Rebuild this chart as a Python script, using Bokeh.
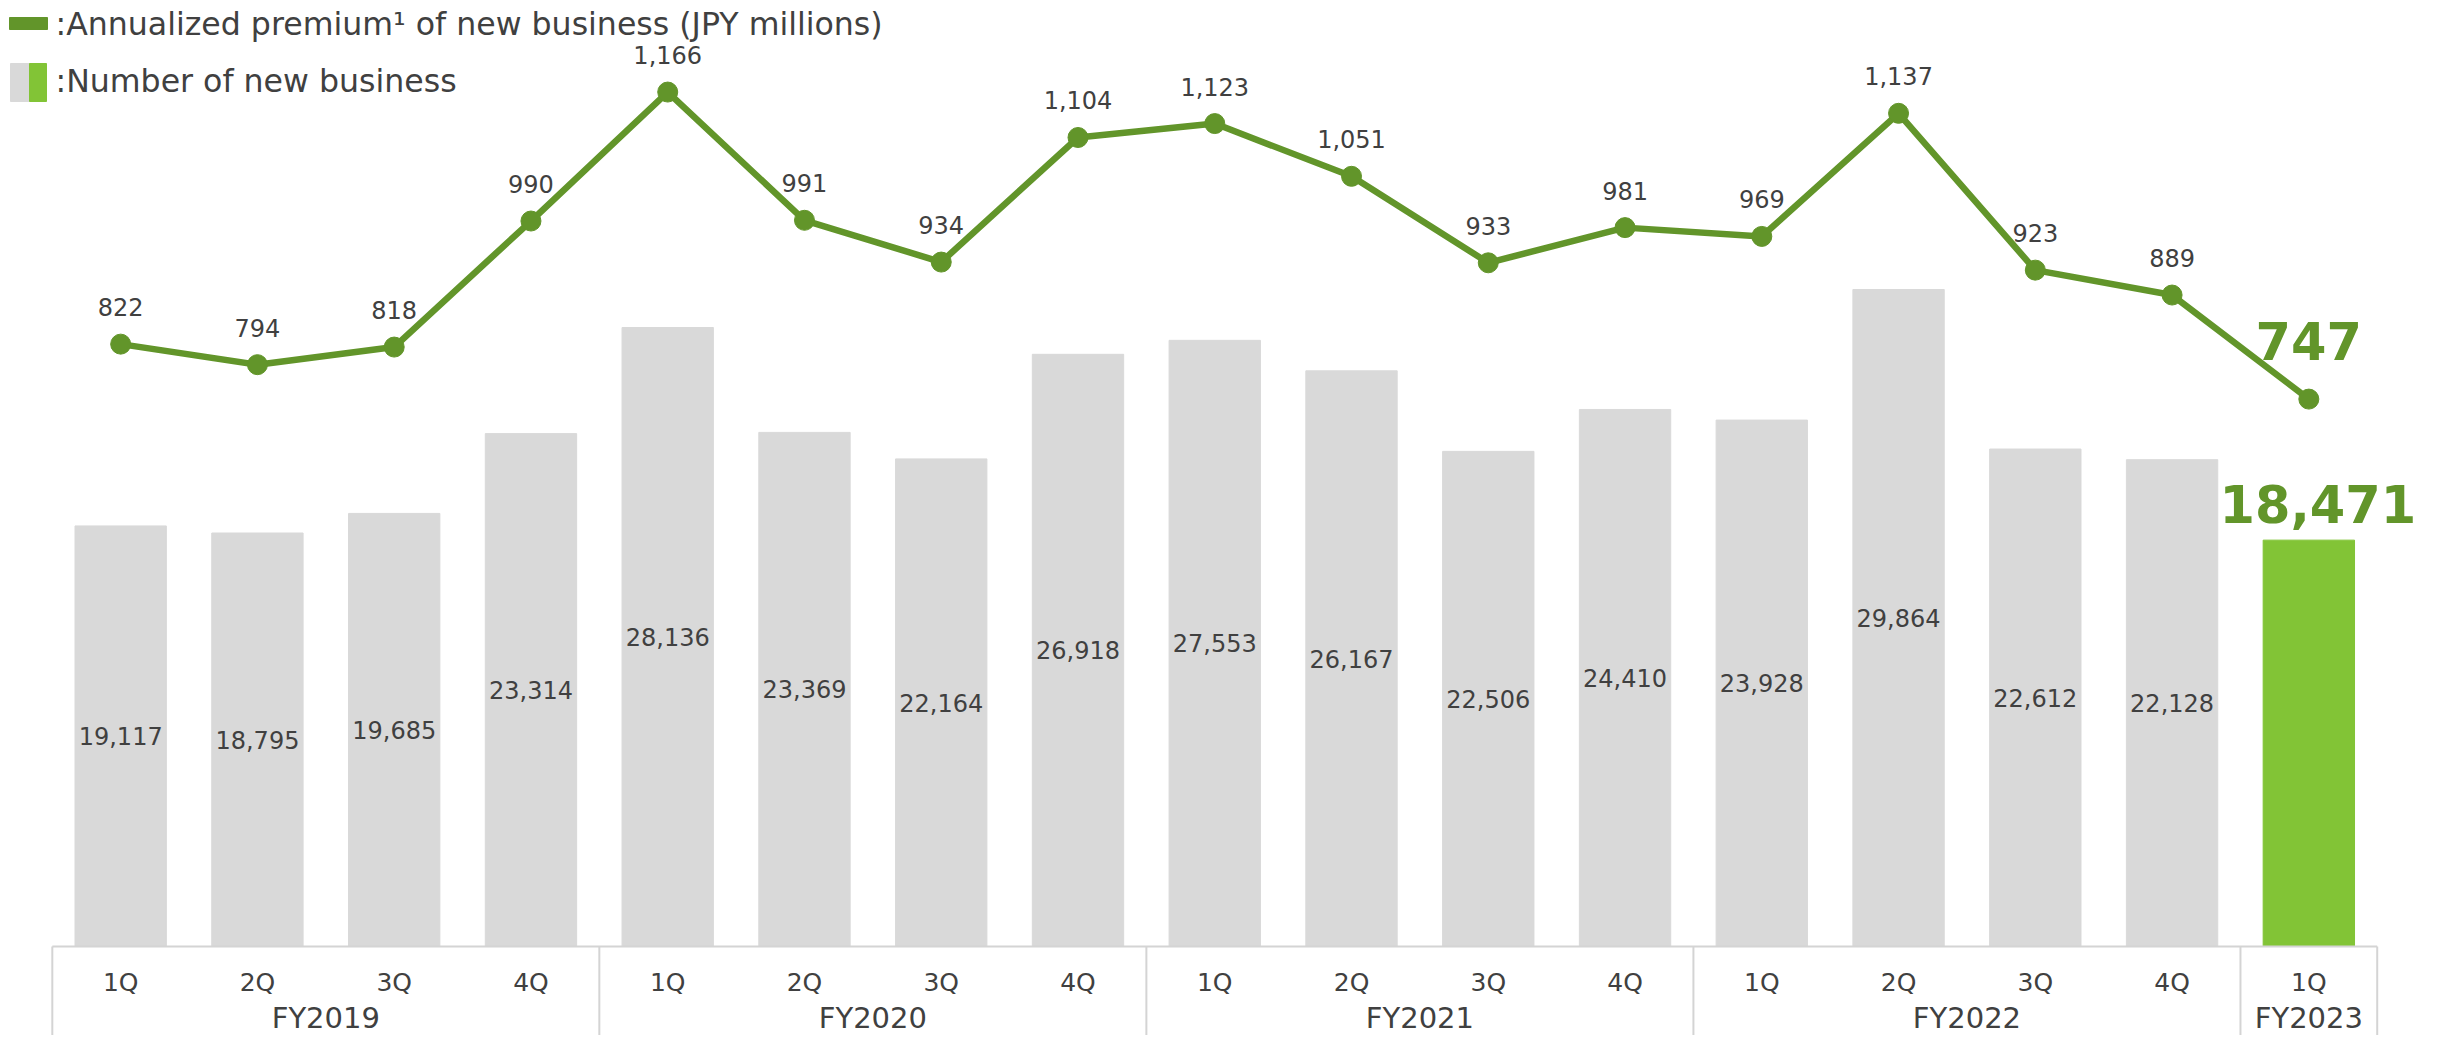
import numpy as np
from bokeh.plotting import figure
from bokeh.models import Range1d, ColumnDataSource
from bokeh.core.properties import value
from bokeh.embed import file_html
from bokeh.resources import INLINE

# ---------------- data ----------------
fiscal_years = ["FY2019"] * 4 + ["FY2020"] * 4 + ["FY2021"] * 4 + ["FY2022"] * 4 + ["FY2023"]
quarters = ["1Q", "2Q", "3Q", "4Q"] * 4 + ["1Q"]
new_business_count = [19117, 18795, 19685, 23314, 28136, 23369, 22164, 26918,
                      27553, 26167, 22506, 24410, 23928, 29864, 22612, 22128, 18471]
annualized_premium = [822, 794, 818, 990, 1166, 991, 934, 1104,
                      1123, 1051, 933, 981, 969, 1137, 923, 889, 747]
legend_line_label = ":Annualized premium\u00b9 of new business (JPY millions)"
legend_bar_label = ":Number of new business"

# ---------------- style / layout ----------------
GREEN_LINE = "#62952a"
GREEN_BAR = "#82c436"
GRAY_BAR = "#d9d9d9"
TEXT = "#404040"
RULE = "#d4d4d4"
FONT = value("DejaVu Sans")

W, H = 2424, 1035
UNIT = 136.76      # px per category
X0 = 51.8          # px from canvas left to first category edge
BASE = 946.0       # px from canvas top to baseline
PX_BAR = 0.0220    # px per business count
PX_LINE = 0.7328   # px per JPY million

x_start, x_end = -X0 / UNIT, (W - X0) / UNIT
y_top, y_bot = BASE / PX_BAR, -(H - BASE) / PX_BAR
l_top, l_bot = BASE / PX_LINE, -(H - BASE) / PX_LINE


def fx(px):
    return x_start + px / UNIT


def fy(py):
    return y_top - py / PX_BAR


n = len(quarters)
xs = np.arange(n) + 0.5
is_last = np.arange(n) == n - 1

src = ColumnDataSource(dict(
    x=xs,
    count=new_business_count,
    half=np.array(new_business_count) / 2.0,
    prem=annualized_premium,
    count_lbl=[f"{v:,}" for v in new_business_count],
    prem_lbl=[f"{v:,}" for v in annualized_premium],
    color=[GREEN_BAR if last else GRAY_BAR for last in is_last],
    q=quarters,
))
src_hist = ColumnDataSource({k: [v[i] for i in range(n) if not is_last[i]] for k, v in src.data.items()})
src_last = ColumnDataSource({k: [v[i] for i in range(n) if is_last[i]] for k, v in src.data.items()})

p = figure(width=W, height=H, x_range=Range1d(x_start, x_end), y_range=Range1d(y_bot, y_top),
           x_axis_type=None, y_axis_type=None, output_backend="svg", toolbar_location=None,
           min_border=0, outline_line_color=None, background_fill_color="white")
p.extra_y_ranges = {"prem": Range1d(l_bot, l_top)}
p.grid.visible = False

# bars
p.vbar(x="x", top="count", width=0.668, color="color", source=src)

# category table
groups = []
for i, fyr in enumerate(fiscal_years):
    if not groups or groups[-1][0] != fyr:
        groups.append([fyr, i, i + 1])
    else:
        groups[-1][2] = i + 1
edges = sorted(set([g[1] for g in groups] + [g[2] for g in groups]))
p.segment(x0=[0], y0=[0], x1=[n], y1=[0], line_color=RULE, line_width=2)
p.segment(x0=edges, y0=[0] * len(edges), x1=edges, y1=[y_bot] * len(edges), line_color=RULE, line_width=2)

p.text(x="x", y=0, text="q", source=src, y_offset=36, text_align="center", text_baseline="middle",
       text_font=FONT, text_font_size="25px", text_color=TEXT)
p.text(x=[(g[1] + g[2]) / 2 for g in groups], y=[0] * len(groups), text=[g[0] for g in groups],
       y_offset=71, text_align="center", text_baseline="middle",
       text_font=FONT, text_font_size="29px", text_color=TEXT)

# bar value labels
p.text(x="x", y="half", text="count_lbl", source=src_hist, text_align="center", text_baseline="middle",
       text_font=FONT, text_font_size="24px", text_color=TEXT)
p.text(x="x", y="count", text="count_lbl", source=src_last, x_offset=9, y_offset=-36,
       text_align="center", text_baseline="middle",
       text_font=FONT, text_font_size="51px", text_font_style="bold", text_color=GREEN_LINE)

# line
p.line(x="x", y="prem", source=src, y_range_name="prem", line_color=GREEN_LINE, line_width=6.5)
p.scatter(x="x", y="prem", source=src, y_range_name="prem", size=20,
          fill_color=GREEN_LINE, line_color=GREEN_LINE)
p.text(x="x", y="prem", text="prem_lbl", source=src_hist, y_range_name="prem", y_offset=-37,
       text_align="center", text_baseline="middle",
       text_font=FONT, text_font_size="24px", text_color=TEXT)
p.text(x="x", y="prem", text="prem_lbl", source=src_last, y_range_name="prem", y_offset=-58,
       text_align="center", text_baseline="middle",
       text_font=FONT, text_font_size="51px", text_font_style="bold", text_color=GREEN_LINE)

# legend
p.quad(left=[fx(9)], right=[fx(47)], top=[fy(17)], bottom=[fy(29)], color=GREEN_LINE)
p.quad(left=[fx(10)], right=[fx(29)], top=[fy(63)], bottom=[fy(101)], color=GRAY_BAR)
p.quad(left=[fx(29)], right=[fx(46)], top=[fy(63)], bottom=[fy(101)], color=GREEN_BAR)
p.text(x=[fx(55), fx(55)], y=[fy(23), fy(80)], text=[legend_line_label, legend_bar_label],
       text_align="left", text_baseline="middle", text_font=FONT, text_font_size="31.6px", text_color=TEXT)

open("out.html", "w").write(file_html(p, INLINE))
